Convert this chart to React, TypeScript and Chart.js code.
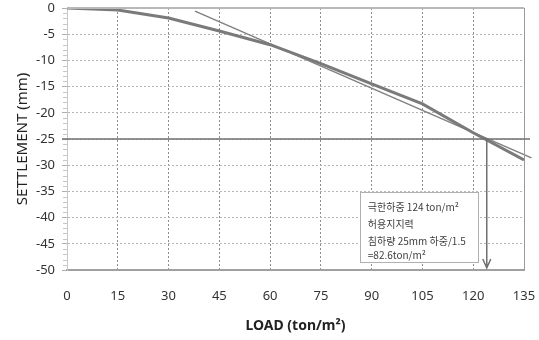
import React, { useEffect, useRef } from "react";
import { Chart, registerables } from "chart.js";

Chart.register(...registerables);

// ---- data ----
const loads = [0, 15, 30, 45, 60, 75, 90, 105, 120, 135];
const settlement = [0, -0.4, -1.9, -4.4, -7.0, -10.6, -14.5, -18.3, -23.8, -29.0];
const tangentLoads = [37.8, 137.2];
const tangentSettlement = [-0.6, -28.6];
const limitSettlement = -25;
const ultimateLoad = 124;
const noteLines = ["극한하중 124 ton/m²", "허용지지력", "침하량 25mm 하중/1.5", "=82.6ton/m²"];
const xTitle = "LOAD (ton/m²)";
const yTitle = "SETTLEMENT (mm)";

const FONT = '"Noto Sans", "Noto Sans CJK KR", sans-serif';

const overlayPlugin = {
  id: "overlay",
  afterDraw(chart: any) {
    const { ctx, chartArea, scales } = chart;
    const { left, right, top, bottom } = chartArea;
    const x = scales.x;
    const y = scales.y;
    ctx.save();
    // minor ticks on y axis
    ctx.strokeStyle = "#c8c8c8";
    ctx.lineWidth = 1;
    for (let v = -50; v <= 0; v += 1) {
      if (v % 5 === 0) continue;
      const py = Math.round(y.getPixelForValue(v)) + 0.5;
      ctx.beginPath();
      ctx.moveTo(left - 4, py);
      ctx.lineTo(left, py);
      ctx.stroke();
    }
    // top & right border
    ctx.strokeStyle = "#b8b8b8";
    ctx.lineWidth = 2;
    ctx.beginPath();
    ctx.moveTo(left, top);
    ctx.lineTo(right, top);
    ctx.stroke();
    ctx.strokeStyle = "#9a9a9a";
    ctx.lineWidth = 1;
    ctx.beginPath();
    ctx.moveTo(Math.round(right) + 0.5, top);
    ctx.lineTo(Math.round(right) + 0.5, bottom);
    ctx.stroke();

    // limit settlement line
    const yl = y.getPixelForValue(limitSettlement);
    ctx.strokeStyle = "#707070";
    ctx.lineWidth = 1.5;
    ctx.beginPath();
    ctx.moveTo(left - 5, yl);
    ctx.lineTo(right + 6, yl);
    ctx.stroke();

    // arrow
    const xa = x.getPixelForValue(ultimateLoad);
    const yb = bottom - 2;
    ctx.strokeStyle = "#707070";
    ctx.lineWidth = 1.5;
    ctx.beginPath();
    ctx.moveTo(xa, yl);
    ctx.lineTo(xa, yb);
    ctx.moveTo(xa - 4, yb - 9);
    ctx.lineTo(xa, yb);
    ctx.lineTo(xa + 4, yb - 9);
    ctx.stroke();

    // note box
    const bx0 = x.getPixelForValue(86.5);
    const bx1 = x.getPixelForValue(121.5);
    const by0 = y.getPixelForValue(-35.1);
    const by1 = y.getPixelForValue(-48.5);
    ctx.fillStyle = "#ffffff";
    ctx.fillRect(bx0, by0, bx1 - bx0, by1 - by0);
    ctx.strokeStyle = "#b0b0b0";
    ctx.lineWidth = 1;
    ctx.strokeRect(Math.round(bx0) + 0.5, Math.round(by0) + 0.5, Math.round(bx1 - bx0), Math.round(by1 - by0));
    ctx.fillStyle = "#404040";
    ctx.font = '10px "Noto Sans CJK KR", "Noto Sans", sans-serif';
    ctx.textBaseline = "middle";
    ctx.textAlign = "left";
    const offs = [15, 32, 49, 63];
    noteLines.forEach((t, i) => {
      ctx.fillText(t, bx0 + 8, by0 + offs[i]);
    });
    ctx.restore();
  },
};

export default function App() {
  const ref = useRef<HTMLCanvasElement | null>(null);
  useEffect(() => {
    document.body.style.margin = "0";
    const canvas = ref.current!;
    Chart.defaults.font.family = FONT;
    const chart = new Chart(canvas, {
      type: "line",
      data: {
        datasets: [
          {
            data: loads.map((l, i) => ({ x: l, y: settlement[i] })),
            borderColor: "#7a7a7a",
            borderWidth: 3,
            pointRadius: 0,
            tension: 0,
          },
          {
            data: tangentLoads.map((l, i) => ({ x: l, y: tangentSettlement[i] })),
            borderColor: "#808080",
            borderWidth: 1.5,
            pointRadius: 0,
            clip: false as any,
          },
        ],
      },
      options: {
        responsive: false,
        animation: false,
        layout: { padding: { top: 8, right: 15, left: 0, bottom: 0 } },
        plugins: { legend: { display: false }, tooltip: { enabled: false } },
        scales: {
          x: {
            type: "linear",
            min: 0,
            max: 135,
            afterFit: (s: any) => {
              s.height = 70;
              s.paddingLeft = 0;
              s.paddingRight = 0;
            },
            ticks: { stepSize: 15, color: "#333", font: { size: 13 }, padding: 18 },
            grid: { color: "#8c8c8c", drawTicks: false, lineWidth: 1 },
            border: { display: true, color: "#a0a0a0", width: 2, dash: [2, 2] },
            title: {
              display: true,
              text: xTitle,
              color: "#222",
              font: { size: 14, weight: "bold" },
              padding: { top: 0, bottom: 6 },
            },
          },
          y: {
            type: "linear",
            min: -50,
            max: 0,
            afterFit: (s: any) => {
              s.width = 67;
              s.paddingTop = 0;
              s.paddingBottom = 0;
            },
            ticks: { stepSize: 5, color: "#333", font: { size: 13 }, padding: 7 },
            grid: { color: "#b4b4b4", drawTicks: true, tickLength: 5, tickColor: "#b0b0b0", lineWidth: 1 },
            border: { display: true, color: "#c8c8c8", width: 1, dash: [2, 2] },
            title: {
              display: true,
              text: yTitle,
              color: "#222",
              font: { size: 15 },
              padding: { top: 14, bottom: 0 },
            },
          },
        },
      },
      plugins: [overlayPlugin],
    } as any);
    return () => chart.destroy();
  }, []);
  return (
    <div style={{ position: "fixed", left: 0, top: 0, width: 539, height: 340 }}>
      <canvas ref={ref} width={539} height={340} style={{ display: "block" }} />
    </div>
  );
}
